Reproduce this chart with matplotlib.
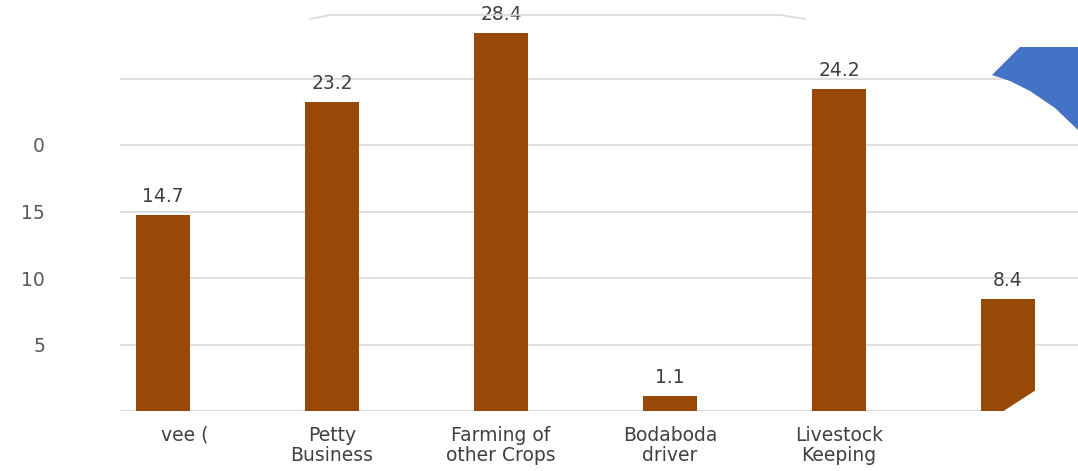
import matplotlib
matplotlib.use("Agg")
import matplotlib.pyplot as plt
from matplotlib.patches import Polygon
from matplotlib.lines import Line2D

categories = ["vee (", "Petty\nBusiness", "Farming of\nother Crops", "Bodaboda\ndriver", "Livestock\nKeeping", ""]
values = [14.7, 23.2, 28.4, 1.1, 24.2, 8.4]
ytick_vals = [5, 10, 15, 20]
ytick_labels = ["5", "10", "15", "0"]

W, H = 1078, 471
fig = plt.figure(figsize=(W / 100, H / 100), dpi=100)
plt.rcParams['font.family'] = ['DejaVu Sans']

def fx(px):
    return px / W

def fy(py):
    return 1 - py / H

# axes: left at 120px, bottom (y=0) at 411px, y=30 at ~12px
ax = fig.add_axes([fx(120), fy(411), fx(1078) - fx(120), fy(12) - fy(411)])
ax.set_xlim(-0.254, 5.414)
ax.set_ylim(0, 30)

bar_color = "#984807"
x = list(range(len(values)))
ax.bar(x, values, width=0.32, color=bar_color, zorder=3)

for xi, v in zip(x, values):
    ax.annotate(f"{v}", (xi, v), xytext=(0, 6.5), textcoords="offset points",
                ha="center", va="bottom", fontsize=13.5, color="#404040", zorder=4)

# gridlines
for g in [5, 10, 15, 20, 25]:
    ax.axhline(g, color="#d9d9d9", lw=1.2, zorder=1)
ax.axhline(0, xmin=0, xmax=(1000 - 120) / (1078 - 120), color="#d9d9d9", lw=1.5, zorder=2)

for s in ax.spines.values():
    s.set_visible(False)
ax.set_yticks(ytick_vals)
ax.set_yticklabels(ytick_labels, fontsize=13.5, color="#595959")
ax.tick_params(axis="y", length=0, pad=54)
ax.set_xticks([])

# category labels
for xi, c in zip(x, categories):
    if c:
        xoff = 0.13 if xi == 0 else 0
        ax.text(xi + xoff, -1.1, c, ha="center", va="top", fontsize=13.5,
                color="#404040", linespacing=1.1)

# top partial line
fig.add_artist(Line2D([fx(310), fx(330), fx(780), fx(805)],
                      [fy(19), fy(15), fy(15), fy(19)],
                      transform=fig.transFigure, color="#d9d9d9", lw=1.2))

# blue shape top-right
blue_pts = [(992, 75), (1020, 47), (1078, 47), (1078, 130), (1055, 108),
            (1030, 91), (1010, 81)]
fig.add_artist(Polygon([(fx(a), fy(b)) for a, b in blue_pts], closed=True,
                       transform=fig.transFigure, facecolor="#4472C4",
                       edgecolor="none", zorder=5))

# cut at bottom-right of the last bar
cut_pts = [(1002, 412), (1036, 390), (1078, 390), (1078, 412)]
fig.add_artist(Polygon([(fx(a), fy(b)) for a, b in cut_pts], closed=True,
                       transform=fig.transFigure, facecolor="white",
                       edgecolor="none", zorder=5))

fig.savefig("out.png", dpi=100)
